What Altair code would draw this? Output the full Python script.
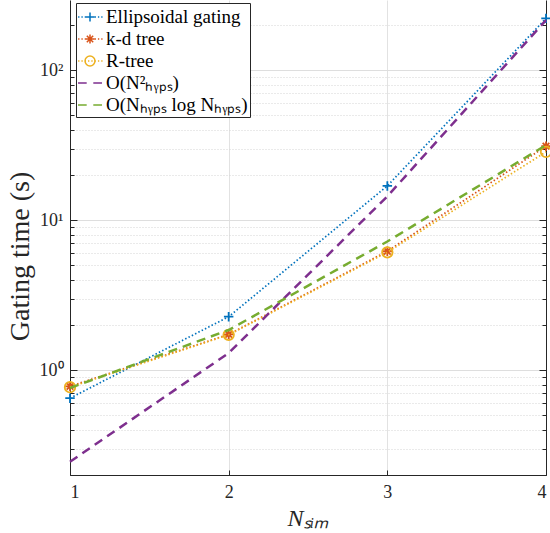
import altair as alt
import pandas as pd

# ---------------- data ----------------
x_vals = [1, 2, 3, 4]
series_names = [
    "Ellipsoidal gating",
    "k-d tree",
    "R-tree",
    "O(N²ₕᵧₚₛ)",
    "O(Nₕᵧₚₛ log Nₕᵧₚₛ)",
]
ellipsoidal = [0.65, 2.27, 16.9, 221]
kd_tree = [0.78, 1.73, 6.2, 31.1]
r_tree = [0.77, 1.72, 6.1, 28.5]
o_n2 = [0.245, 1.30, 14.4, 215]
o_nlogn = [0.76, 1.85, 7.2, 31.6]

x_ticks = [1, 2, 3, 4]
y_ticks = [0.2, 0.3, 0.4, 0.5, 0.6, 0.7, 0.8, 0.9,
           1, 2, 3, 4, 5, 6, 7, 8, 9,
           10, 20, 30, 40, 50, 60, 70, 80, 90,
           100, 200]

colors = ["#0072BD", "#D95319", "#EDB120", "#7E2F8E", "#77AC30"]
legend_widths = [1.5, 1.5, 1.5, 2.5, 2.5]

all_series = [ellipsoidal, kd_tree, r_tree, o_n2, o_nlogn]
rows = []
for name, vals in zip(series_names, all_series):
    for xv, yv in zip(x_vals, vals):
        rows.append({"series": name, "x": xv, "y": yv})
df = pd.DataFrame(rows)

# ---------------- styling ----------------
FONT = "Liberation Serif"
INK = "#262626"
W, H = 476, 475

xscale = alt.Scale(domain=[1, 4], nice=False, zero=False)
yscale = alt.Scale(type="log", domain=[0.2, 293], nice=False)

major_test = "datum.value == 1 || datum.value == 10 || datum.value == 100"
label_expr = ("datum.value == 1 ? '10⁰' : datum.value == 10 ? '10¹' : "
              "datum.value == 100 ? '10²' : ''")

main_x_axis = alt.Axis(
    values=x_ticks, format="d", labelFont=FONT, labelFontSize=18,
    labelColor=INK, labelPadding=8, ticks=False, tickSize=0,
    domain=True, domainColor=INK, domainWidth=1,
    grid=True, gridColor="#e2e2e2", gridWidth=1,
    title="Nₛᵢₘ", titleFont=FONT, titleFontSize=24, titleFontStyle="italic",
    titleFontWeight="normal", titleColor=INK, titleY=43, titleBaseline="middle",
)
main_y_axis = alt.Axis(
    values=y_ticks, labelExpr=label_expr, labelFont=FONT, labelFontSize=18,
    labelColor=INK, labelPadding=7, ticks=False, tickSize=0,
    labelBaseline="middle",
    domain=True, domainColor=INK, domainWidth=1,
    grid=True,
    gridColor={"condition": {"test": major_test, "value": "#dedede"}, "value": "#d4d4d4"},
    gridDash={"condition": {"test": major_test, "value": []}, "value": [1, 2]},
    gridWidth=1,
    title="Gating time (s)", titleFont=FONT, titleFontSize=28,
    titleFontWeight="normal", titleColor=INK, titleAngle=270,
    titleX=-50, titleY=256, titleAlign="center", titleBaseline="middle",
)
x_in_axis = alt.Axis(
    orient="top", offset=-H, values=x_ticks, labels=False, grid=False,
    domain=False, ticks=True, tickSize=5, tickColor=INK, title=None,
)
y_in_left = alt.Axis(
    orient="right", offset=-W, values=y_ticks, labels=False, grid=False,
    domain=False, ticks=True, tickColor=INK,
    tickSize={"condition": {"test": major_test, "value": 7}, "value": 4},
    title=None,
)
y_in_right = alt.Axis(
    orient="left", offset=-W, values=y_ticks, labels=False, grid=False,
    domain=True, domainColor=INK, ticks=True, tickColor=INK,
    tickSize={"condition": {"test": major_test, "value": 7}, "value": 4},
    title=None,
)

line_styles = [
    dict(strokeWidth=1.7, strokeDash=[1.5, 2.2]),
    dict(strokeWidth=1.7, strokeDash=[1.5, 2.2]),
    dict(strokeWidth=1.7, strokeDash=[1.5, 2.2]),
    dict(strokeWidth=2.5, strokeDash=[9, 6]),
    dict(strokeWidth=2.5, strokeDash=[9, 6]),
]
axes_for = [
    (main_x_axis, main_y_axis),
    (x_in_axis, y_in_left),
    (None, y_in_right),
    (None, None),
    (None, None),
]

PLUS = "M-1,0H1M0,-1V1"
STAR = "M-1,0H1M0,-1V1M-0.7,-0.7L0.7,0.7M-0.7,0.7L0.7,-0.7"
CIRC = "M1,0A1,1 0 1,1 -1,0A1,1 0 1,1 1,0Z"
marker_shapes = [PLUS, STAR, CIRC]
marker_sizes = [90, 90, 110]

layers = []
for i, name in enumerate(series_names):
    xa, ya = axes_for[i]
    base = alt.Chart(df).transform_filter(alt.datum.series == name)
    line = base.mark_line(color=colors[i], **line_styles[i]).encode(
        x=alt.X("x:Q", scale=xscale, axis=xa),
        y=alt.Y("y:Q", scale=yscale, axis=ya),
    )
    layers.append(line)
    if i < 3:
        pts = base.mark_point(
            shape=marker_shapes[i], size=marker_sizes[i], filled=False,
            color=colors[i], strokeWidth=1.8, opacity=1,
        ).encode(
            x=alt.X("x:Q", scale=xscale, axis=None),
            y=alt.Y("y:Q", scale=yscale, axis=None),
        )
        layers.append(pts)


# ---------------- legend symbols ----------------
def dotted(start=-1.08, step=0.3, length=0.12, n=8):
    return "".join(
        f"M{start + k * step:.3f},0H{start + k * step + length:.3f}" for k in range(n)
    )

DASHED = "M-1.09,0H-0.3M0.3,0H1.09"
leg_paths = [
    dotted() + "M-0.41,0H0.41M0,-0.41V0.41",
    dotted() + "M-0.41,0H0.41M0,-0.41V0.41M-0.29,-0.29L0.29,0.29M-0.29,0.29L0.29,-0.29",
    dotted() + "M0.45,0A0.45,0.45 0 1,1 -0.45,0A0.45,0.45 0 1,1 0.45,0Z",
    DASHED,
    DASHED,
]

legend = alt.Legend(
    title=None, orient="none", legendX=6, legendY=3,
    fillColor="white", strokeColor=INK, padding=2, cornerRadius=0,
    symbolSize=484, rowPadding=0, labelOffset=4,
    labelFont=FONT, labelFontSize=19, labelColor="#000000", labelLimit=0,
    labelBaseline="middle", symbolFillColor="transparent",
)

legend_df = pd.DataFrame({"series": series_names})
legend_layer = alt.Chart(legend_df).transform_filter("false").mark_point(
    filled=False, opacity=1
).encode(
    color=alt.Color("series:N", scale=alt.Scale(domain=series_names, range=colors), legend=legend),
    shape=alt.Shape("series:N", scale=alt.Scale(domain=series_names, range=leg_paths), legend=legend),
    strokeWidth=alt.StrokeWidth("series:N", scale=alt.Scale(domain=series_names, range=legend_widths), legend=legend),
)
layers.append(legend_layer)

chart = alt.layer(*layers).resolve_axis(
    x="independent", y="independent"
).properties(
    width=W, height=H,
    autosize=alt.AutoSizeParams(type="none"),
    padding={"left": 70, "top": 0, "right": 4, "bottom": 58},
    background="white",
).configure_view(stroke=None)

chart.save("out.html", embed_options={"renderer": "svg", "actions": False})
